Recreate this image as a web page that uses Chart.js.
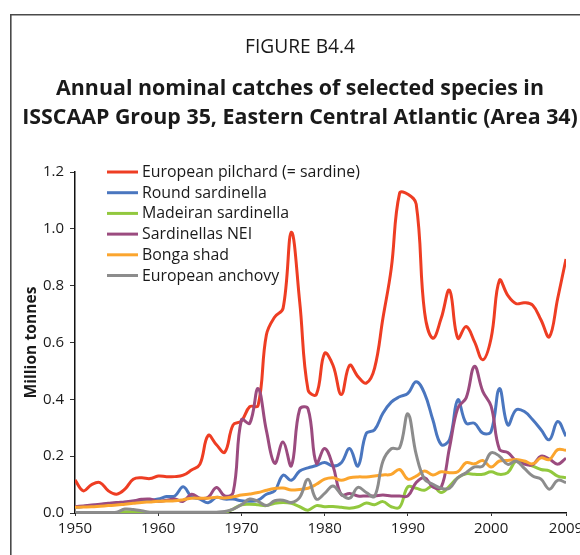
<!DOCTYPE html>
<html><head><meta charset="utf-8">
<script src="https://cdn.jsdelivr.net/npm/chart.js@4.4.1/dist/chart.umd.min.js"></script>
<style>html,body{margin:0;padding:0;background:#fff}canvas{display:block}</style>
</head><body>
<canvas id="c" width="580" height="555"></canvas>
<script>
const years = [1950,1951,1952,1953,1954,1955,1956,1957,1958,1959,
  1960,1961,1962,1963,1964,1965,1966,1967,1968,1969,
  1970,1971,1972,1973,1974,1975,1976,1977,1978,1979,
  1980,1981,1982,1983,1984,1985,1986,1987,1988,1989,
  1990,1991,1992,1993,1994,1995,1996,1997,1998,1999,
  2000,2001,2002,2003,2004,2005,2006,2007,2008,2009];

const europeanPilchard = [0.116,0.078,0.100,0.107,0.078,0.066,0.084,0.119,0.124,0.121,
  0.130,0.128,0.128,0.133,0.151,0.171,0.273,0.240,0.214,0.310,
  0.324,0.374,0.378,0.627,0.690,0.720,0.988,0.743,0.434,0.417,
  0.562,0.520,0.417,0.520,0.480,0.457,0.510,0.685,0.860,1.125,
  1.122,1.087,0.708,0.615,0.685,0.784,0.615,0.656,0.603,0.539,
  0.615,0.819,0.766,0.737,0.740,0.731,0.679,0.620,0.755,0.894];

const roundSardinella = [0.020,0.023,0.026,0.029,0.032,0.035,0.038,0.041,0.045,0.045,
  0.049,0.058,0.060,0.092,0.057,0.049,0.036,0.055,0.049,0.049,
  0.043,0.041,0.045,0.066,0.078,0.133,0.115,0.148,0.159,0.167,
  0.178,0.165,0.177,0.227,0.165,0.280,0.293,0.351,0.390,0.409,
  0.421,0.462,0.421,0.328,0.241,0.258,0.398,0.316,0.316,0.281,
  0.287,0.438,0.310,0.363,0.357,0.328,0.293,0.258,0.322,0.270];

const madeiranSardinella = [0.002,0.002,0.002,0.002,0.002,0.002,0.004,0.004,0.003,0.002,
  0.002,0.002,0.002,0.002,0.002,0.002,0.002,0.002,0.002,0.014,
  0.029,0.031,0.029,0.026,0.034,0.037,0.034,0.022,0.010,0.026,
  0.022,0.023,0.020,0.017,0.022,0.035,0.029,0.040,0.022,0.020,
  0.092,0.087,0.080,0.095,0.072,0.095,0.124,0.138,0.136,0.136,
  0.145,0.136,0.142,0.183,0.177,0.165,0.153,0.148,0.130,0.124];

const sardinellasNEI = [0.022,0.025,0.028,0.031,0.034,0.037,0.039,0.042,0.048,0.049,
  0.041,0.045,0.049,0.041,0.066,0.052,0.055,0.090,0.060,0.072,
  0.328,0.316,0.438,0.290,0.175,0.250,0.166,0.365,0.367,0.175,
  0.227,0.165,0.064,0.069,0.060,0.060,0.060,0.063,0.060,0.060,
  0.060,0.107,0.124,0.092,0.090,0.229,0.369,0.405,0.516,0.428,
  0.376,0.224,0.213,0.184,0.172,0.170,0.200,0.190,0.172,0.193];

const bongaShad = [0.020,0.021,0.022,0.024,0.026,0.028,0.031,0.034,0.037,0.039,
  0.041,0.042,0.043,0.047,0.052,0.052,0.052,0.055,0.053,0.057,
  0.063,0.067,0.072,0.080,0.086,0.088,0.081,0.083,0.087,0.101,
  0.119,0.124,0.115,0.124,0.127,0.127,0.130,0.134,0.136,0.153,
  0.119,0.130,0.148,0.134,0.145,0.142,0.145,0.177,0.173,0.185,
  0.162,0.183,0.185,0.188,0.183,0.173,0.194,0.188,0.223,0.221];

const europeanAnchovy = [0.002,0.002,0.002,0.002,0.002,0.003,0.014,0.012,0.008,0.003,
  0.003,0.003,0.003,0.003,0.003,0.003,0.003,0.003,0.005,0.014,
  0.029,0.049,0.041,0.026,0.043,0.045,0.037,0.055,0.119,0.049,
  0.069,0.095,0.066,0.052,0.090,0.072,0.059,0.182,0.226,0.229,
  0.349,0.206,0.119,0.101,0.087,0.087,0.124,0.142,0.162,0.165,
  0.212,0.200,0.171,0.183,0.157,0.130,0.119,0.084,0.115,0.107];

const seriesNames = ['European pilchard (= sardine)','Round sardinella','Madeiran sardinella',
  'Sardinellas NEI','Bonga shad','European anchovy'];
const seriesColors = ['#EE3D23','#4A76BF','#92C83E','#9B4B7F','#FBA52E','#8C8C8C'];
const xTicks = [1950,1960,1970,1980,1990,2000,2009];
const yTicks = [0,0.2,0.4,0.6,0.8,1.0,1.2];
const titleText = 'FIGURE B4.4';
const subtitleLines = ['Annual nominal catches of selected species in',
  'ISSCAAP Group 35, Eastern Central Atlantic (Area 34)'];
const yTitle = 'Million tonnes';

const FAMILY = 'Open Sans';
function fitSize(text, weight, target) {
  const c = document.createElement('canvas').getContext('2d');
  c.font = weight + ' 20px "' + FAMILY + '"';
  return 20 * target / c.measureText(text).width;
}
const titleSize = fitSize(titleText, 'normal', 110);
const subSize = fitSize(subtitleLines[1], 'bold', 556);
const legendSize = fitSize(seriesNames[0], 'normal', 218);
const yTitleSize = fitSize(yTitle, 'bold', 112);

const values = [europeanPilchard, roundSardinella, madeiranSardinella, sardinellasNEI, bongaShad, europeanAnchovy];

const framePlugin = {
  id: 'frame',
  beforeDraw(chart) {
    const ctx = chart.ctx;
    ctx.save();
    ctx.strokeStyle = '#4a4a4a';
    ctx.lineWidth = 1.6;
    ctx.beginPath();
    ctx.moveTo(10.8, 555);
    ctx.lineTo(10.8, 14.8);
    ctx.lineTo(580, 14.8);
    ctx.stroke();
    ctx.restore();
  }
};

const legendPlugin = {
  id: 'insideLegend',
  afterDatasetsDraw(chart) {
    const {ctx, chartArea} = chart;
    const x0 = chartArea.left + 32, y0 = chartArea.top, step = 20.7;
    ctx.save();
    ctx.font = legendSize.toFixed(2) + 'px "' + FAMILY + '"';
    ctx.textBaseline = 'middle';
    ctx.textAlign = 'left';
    chart.data.datasets.forEach((ds, i) => {
      const y = y0 + i * step;
      ctx.strokeStyle = ds.borderColor;
      ctx.lineWidth = 3;
      ctx.lineCap = 'butt';
      ctx.beginPath();
      ctx.moveTo(x0, y);
      ctx.lineTo(x0 + 31, y);
      ctx.stroke();
      ctx.fillStyle = '#1a1a1a';
      ctx.fillText(ds.label, x0 + 35, y + 0.5);
    });
    ctx.restore();
  }
};

new Chart(document.getElementById('c'), {
  type: 'line',
  data: {
    labels: years,
    datasets: seriesNames.map((name, i) => ({
      label: name,
      data: values[i],
      borderColor: seriesColors[i],
      backgroundColor: seriesColors[i],
      borderWidth: 3,
      pointRadius: 0,
      tension: 0.4,
      fill: false,
      order: seriesNames.length - i
    }))
  },
  options: {
    responsive: false,
    animation: false,
    devicePixelRatio: 1,
    events: [],
    layout: { padding: { left: 20, right: 0, top: 0, bottom: 0 } },
    plugins: {
      legend: { display: false },
      tooltip: { enabled: false },
      title: {
        display: true,
        text: titleText,
        color: '#1a1a1a',
        font: { family: FAMILY, size: titleSize, weight: 'normal', lineHeight: 1.2 },
        padding: { top: 36, bottom: 0 }
      },
      subtitle: {
        display: true,
        text: subtitleLines,
        color: '#1a1a1a',
        font: { family: FAMILY, size: subSize, weight: 'bold', lineHeight: 29 / subSize },
        padding: { top: 15.5, bottom: 39.5 }
      }
    },
    scales: {
      x: {
        type: 'linear',
        min: 1950,
        max: 2009,
        afterBuildTicks: (scale) => { scale.ticks = xTicks.map(v => ({ value: v })); },
        afterFit: (scale) => { scale.height = 42; scale.paddingLeft = 0; scale.paddingRight = 14; },
        grid: { display: true, drawOnChartArea: false, drawTicks: true, tickLength: 3, color: '#333', lineWidth: 1 },
        border: { display: true, color: '#111', width: 1.5 },
        ticks: {
          autoSkip: false, maxRotation: 0, padding: 4, color: '#1a1a1a',
          font: { family: FAMILY, size: 15 },
          callback: (v) => String(v)
        }
      },
      y: {
        type: 'linear',
        min: 0,
        max: 1.2,
        afterBuildTicks: (scale) => { scale.ticks = yTicks.map(v => ({ value: v })); },
        afterFit: (scale) => { scale.width = 55; scale.paddingTop = 0; scale.paddingBottom = 0; },
        grid: { display: true, drawOnChartArea: false, drawTicks: true, tickLength: 5, color: '#333', lineWidth: 1 },
        border: { display: true, color: '#111', width: 1.5 },
        ticks: {
          padding: 6, color: '#1a1a1a',
          font: { family: FAMILY, size: 15 },
          callback: (v) => Number(v).toFixed(1)
        },
        title: {
          display: true,
          text: yTitle,
          color: '#1a1a1a',
          font: { family: FAMILY, size: yTitleSize, weight: 'bold', lineHeight: 1.2 },
          padding: { top: 2, bottom: 0 }
        }
      }
    }
  },
  plugins: [framePlugin, legendPlugin]
});
</script>
</body></html>
